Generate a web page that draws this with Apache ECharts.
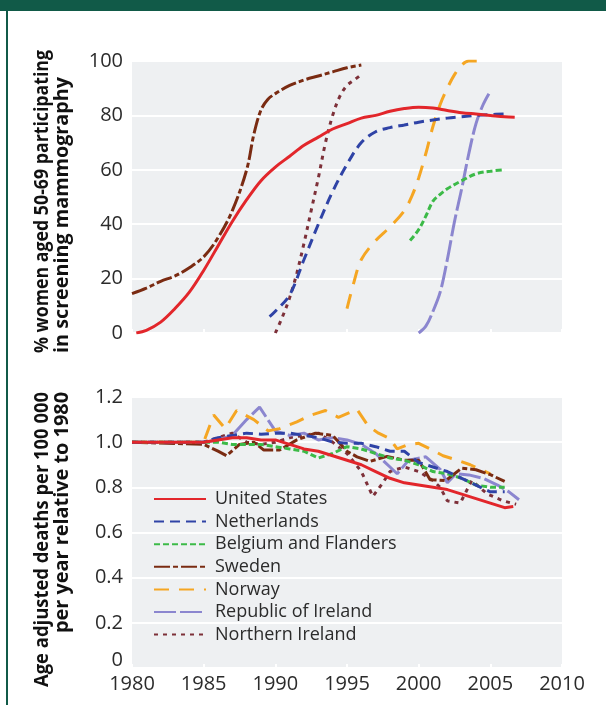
<!DOCTYPE html>
<html><head><meta charset="utf-8">
<script src="https://cdn.jsdelivr.net/npm/echarts@6/dist/echarts.min.js"></script>
<style>html,body{margin:0;padding:0;background:#fff}#c{width:606px;height:705px}</style>
</head><body><div id="c"></div>
<script>
// ---------- data ----------
const countries = ['United States','Netherlands','Belgium and Flanders','Sweden','Norway','Republic of Ireland','Northern Ireland'];
const xTicks = [1980,1985,1990,1995,2000,2005,2010];
const yTicksTop = [0,20,40,60,80,100];
const yTicksBottom = [0,0.2,0.4,0.6,0.8,1.0,1.2];
const titleTop = ['% women aged 50-69 participating','in screening mammography'];
const titleBottom = ['Age adjusted deaths per 100 000','per year relative to 1980'];

// participation (%) in screening mammography, [year, value]
const partUS = [[1980.3,0],[1981,1],[1982,4],[1983,9],[1984,15],[1985,23],[1986,32],[1987,41],[1988,49],[1989,56],[1990,61],[1991,65],[1992,69],[1993,72],[1994,75],[1995,77],[1996,79],[1997,80],[1998,81.5],[1999,82.5],[2000,83],[2001,82.7],[2002,81.8],[2003,81],[2004,80.5],[2005,80],[2006,79.5],[2006.7,79.3]];
const partNL = [[1989.6,6],[1990,8],[1991,14],[1992,27],[1993,40],[1994,52],[1995,62],[1996,70],[1997,74],[1998,75.5],[1999,76.5],[2000,77.5],[2001,78.3],[2002,79],[2003,79.5],[2004,80],[2005,80.3],[2006,80.5]];
const partBE = [[1999.4,34],[2000,38],[2000.5,43],[2001,48.5],[2001.5,51],[2002,53],[2003,56],[2004,58.5],[2005,59.5],[2006,60]];
const partSE = [[1980,14.5],[1981,16.5],[1982,19],[1983,21],[1984,24],[1985,28],[1986,35],[1987,45],[1988,60],[1988.5,73],[1989,82],[1989.5,86],[1990,88],[1991,91],[1992,93],[1993,94.5],[1994,96],[1995,97.5],[1996,98.5]];
const partNO = [[1995,9],[1995.5,19],[1996,27],[1997,34],[1998,39],[1999,45],[1999.5,50],[2000,57],[2000.5,66],[2001,76],[2001.5,84],[2002,90],[2002.5,95],[2003,98.5],[2003.5,100],[2004.2,100]];
const partIE = [[2000,0],[2000.5,2.5],[2001,8],[2001.5,15],[2002,27],[2002.5,41],[2003,53],[2003.5,66],[2004,77],[2004.5,84],[2004.9,88]];
const partNI = [[1990,0],[1990.5,6],[1991,13],[1991.5,22],[1992,33],[1992.5,45],[1993,57],[1993.5,70],[1994,80],[1994.5,87],[1995,91],[1995.5,93],[1996,95]];

// age adjusted deaths relative to 1980, [year, value]
const mortUS = [[1980,1],[1985,1],[1986,1.01],[1987,1.02],[1988,1.02],[1989,1.01],[1990,1.01],[1991,0.99],[1992,0.97],[1993,0.96],[1994,0.94],[1995,0.92],[1996,0.9],[1997,0.87],[1998,0.84],[1999,0.82],[2000,0.81],[2001,0.8],[2002,0.79],[2003,0.77],[2004,0.75],[2005,0.73],[2006,0.71],[2006.6,0.715]];
const mortNL = [[1980,1],[1985,1.0],[1986,1.02],[1987,1.03],[1988,1.04],[1989,1.035],[1990,1.04],[1991,1.04],[1992,1.03],[1993,1.02],[1994,1.0],[1995,0.995],[1996,0.995],[1997,0.98],[1998,0.96],[1999,0.96],[2000,0.91],[2001,0.89],[2002,0.87],[2003,0.84],[2004,0.81],[2005,0.78],[2006,0.78]];
const mortBE = [[1980,1],[1985,1.0],[1986,1.0],[1987,0.99],[1988,0.99],[1989,0.99],[1990,0.98],[1991,0.97],[1992,0.96],[1993,0.93],[1994,0.95],[1995,0.98],[1996,0.97],[1997,0.95],[1998,0.93],[1999,0.92],[2000,0.9],[2001,0.87],[2002,0.86],[2003,0.84],[2004,0.81],[2005,0.8],[2006,0.8]];
const mortSE = [[1980,1],[1985,0.99],[1986,0.96],[1986.6,0.94],[1987.5,0.99],[1988.5,1.0],[1989.2,0.965],[1990.3,0.965],[1991.5,1.01],[1992.8,1.04],[1994,1.03],[1995,0.96],[1995.7,0.935],[1996.6,0.915],[1997.8,0.937],[1999,0.92],[2000,0.92],[2000.8,0.834],[2001.9,0.83],[2003,0.885],[2004,0.878],[2005,0.856],[2006,0.826]];
const mortNO = [[1980,1],[1985,1.0],[1985.7,1.12],[1986.5,1.06],[1987.3,1.14],[1988.5,1.1],[1989.5,1.05],[1990.3,1.06],[1991.5,1.09],[1992.5,1.12],[1993.5,1.14],[1994.4,1.11],[1995.7,1.145],[1996.5,1.07],[1997.2,1.04],[1998,1.015],[1998.5,0.97],[1999.3,0.99],[2000,0.995],[2000.8,0.97],[2001.7,0.94],[2002.7,0.92],[2003.6,0.9],[2004.3,0.88],[2005,0.86]];
const mortIE = [[1980,1],[1985,1.0],[1986,1.01],[1987,1.03],[1988,1.1],[1988.9,1.155],[1990,1.05],[1991,1.03],[1992,1.04],[1993,1.01],[1994,1.02],[1995,1.01],[1996,0.99],[1997,0.95],[1998,0.89],[1998.5,0.86],[1999.3,0.92],[2000.5,0.935],[2001.5,0.88],[2002,0.82],[2002.6,0.86],[2003.5,0.855],[2004.5,0.84],[2005.5,0.81],[2006.3,0.78],[2007,0.745]];
const mortNI = [[1980,1],[1985,1.0],[1986,1.02],[1987,1.04],[1988,1.0],[1989,0.99],[1990,1.0],[1991,1.02],[1992,1.03],[1993,1.04],[1994,1.0],[1995,0.95],[1996,0.87],[1996.8,0.76],[1997.5,0.82],[1998,0.87],[1999,0.89],[2000,0.87],[2001,0.83],[2001.5,0.8],[2002,0.74],[2002.9,0.73],[2003.7,0.83],[2004.8,0.77],[2005.9,0.74],[2006.8,0.725]];

// ---------- styles ----------
const colorList = ['#e2262b','#2f43a6','#3cba48','#7a2b12','#f5a623','#8b86cf','#7d3039'];
const dashList  = ['solid',[10,6],[6,3],[16,3,5,3],[15,10],[22,4],[4,5]];
const partData = [partUS,partNL,partBE,partSE,partNO,partIE,partNI];
const mortData = [mortUS,mortNL,mortBE,mortSE,mortNO,mortIE,mortNI];
const drawOrder = [6,5,4,3,2,1,0];

const tickFont = {fontFamily:'Open Sans', fontSize:20, color:'#2b2b2b'};
const series = [];
drawOrder.forEach(i => {
  series.push({name:countries[i], type:'line', xAxisIndex:0, yAxisIndex:0, data:partData[i],
    showSymbol:false, symbol:'none', smooth:0.35, animation:false,
    lineStyle:{color:colorList[i], width:3, type:dashList[i]}, itemStyle:{color:colorList[i]}});
});
drawOrder.forEach(i => {
  series.push({name:countries[i], type:'line', xAxisIndex:1, yAxisIndex:1, data:mortData[i],
    showSymbol:false, symbol:'none', animation:false,
    lineStyle:{color:colorList[i], width:3, type:dashList[i]}, itemStyle:{color:colorList[i]}});
});

const xAxisCommon = {type:'value', min:xTicks[0], max:xTicks[xTicks.length-1], interval:5,
  axisLine:{show:false}, splitLine:{show:false},
  axisTick:{show:true, inside:true, length:4, lineStyle:{color:'#ffffff', width:2}}};

// axis titles: bold, stretched along their direction to the reference lengths
const titleFont = 'bold 19px "Open Sans"';
const measureCtx = document.createElement('canvas').getContext('2d');
measureCtx.font = titleFont;
function titleText(str, x, y, align, targetLen) {
  const w = measureCtx.measureText(str).width || targetLen;
  return {type:'text', x:x, y:y, rotation:Math.PI/2, scaleX:targetLen / w, silent:true,
    style:{text:str, fontFamily:'Open Sans', fontWeight:'bold', fontSize:19, fill:'#111',
      textAlign:align, textVerticalAlign:'middle'}};
}

const chart = echarts.init(document.getElementById('c'), null, {renderer:'canvas'});
chart.setOption({
  backgroundColor:'#ffffff',
  animation:false,
  grid:[
    {left:132, top:61, width:430, height:272, show:true, backgroundColor:'#eef0f2', borderWidth:0},
    {left:132, top:397, width:430, height:271, show:true, backgroundColor:'#eef0f2', borderWidth:0}
  ],
  xAxis:[
    Object.assign({gridIndex:0, axisLabel:{show:false}}, xAxisCommon),
    Object.assign({gridIndex:1, axisLabel:Object.assign({margin:6, formatter:v => String(v)}, tickFont)}, xAxisCommon)
  ],
  yAxis:[
    {type:'value', gridIndex:0, min:yTicksTop[0], max:yTicksTop[yTicksTop.length-1], interval:20,
     axisLine:{show:false}, axisTick:{show:false},
     splitLine:{lineStyle:{color:'#ffffff', width:2}},
     axisLabel:Object.assign({margin:9}, tickFont)},
    {type:'value', gridIndex:1, min:yTicksBottom[0], max:yTicksBottom[yTicksBottom.length-1], interval:0.2,
     axisLine:{show:false}, axisTick:{show:false},
     splitLine:{lineStyle:{color:'#ffffff', width:2}},
     axisLabel:Object.assign({margin:9,
       formatter:v => v === 0 ? '{z|0}' : v.toFixed(1),
       rich:{z:{fontFamily:'Open Sans', fontSize:20, color:'#2b2b2b', padding:[0,0,16,0]}}}, tickFont)}
  ],
  legend:{
    data:countries, orient:'vertical', left:148, top:483,
    itemWidth:52, itemHeight:14, itemGap:0.6,
    itemStyle:{opacity:0},
    textStyle:{fontFamily:'Open Sans', fontSize:18, color:'#2b2b2b', lineHeight:22, padding:[0,0,0,4]},
    selectedMode:false
  },
  graphic:[
    {type:'rect', shape:{x:0, y:0, width:606, height:11}, style:{fill:'#115a48'}, silent:true},
    {type:'rect', shape:{x:6, y:0, width:2, height:705}, style:{fill:'#115a48'}, silent:true},
    titleText(titleTop[0], 43, 353, 'left', 303),
    titleText(titleTop[1], 63, 353, 'left', 276),
    titleText(titleBottom[0], 43, 392, 'right', 295),
    titleText(titleBottom[1], 63, 392, 'right', 241)
  ],
  series:series
});
</script>
</body></html>
